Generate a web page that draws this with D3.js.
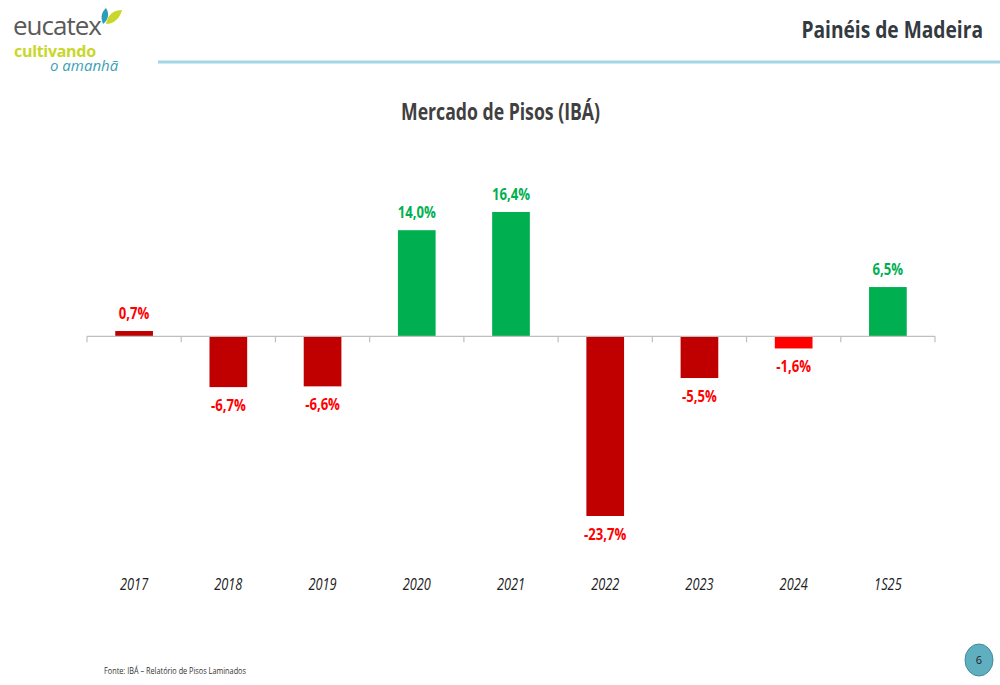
<!DOCTYPE html>
<html>
<head>
<meta charset="utf-8">
<script src="https://cdn.jsdelivr.net/npm/d3@7"></script>
<style>
  body { margin: 0; background: #fff; }
  svg { display: block; font-family: "Open Sans", "Noto Sans", sans-serif; }
</style>
</head>
<body>
<svg id="chart" width="1000" height="685"></svg>
<script>
const categories = ['2017', '2018', '2019', '2020', '2021', '2022', '2023', '2024', '1S25'];
const values = [0.7, -6.7, -6.6, 14.0, 16.4, -23.7, -5.5, -1.6, 6.5];
const barColors = ['#C00000', '#C00000', '#C00000', '#00B050', '#00B050', '#C00000', '#C00000', '#FF0000', '#00B050'];

const svg = d3.select('#chart');
const fmt = v => v.toFixed(1).replace('.', ',') + '%';

// squeeze text horizontally, the source font is narrower than Open Sans
function narrow(sel, px, py, sx) {
  sel.attr('x', 0).attr('y', 0)
    .attr('transform', (d, i) => `translate(${px(d, i)},${py(d, i)}) scale(${sx},1)`);
}

// header
const logo = svg.append('g');
logo.append('text').attr('x', 13).attr('y', 35)
  .attr('font-size', 26).attr('fill', '#5a5a5a').attr('letter-spacing', -1)
  .text('eucatex');
logo.append('text').attr('x', 14).attr('y', 57)
  .attr('font-size', 16).attr('font-weight', 'bold').attr('fill', '#C9D62B')
  .attr('letter-spacing', -0.3).text('cultivando');
logo.append('text').attr('x', 50).attr('y', 71)
  .attr('font-size', 15).attr('font-style', 'italic').attr('fill', '#3B9FB5')
  .text('o amanhã');
logo.append('path').attr('d', 'M103,24 C100,16 102,12 106,8 C110,14 108,20 103,24 Z').attr('fill', '#2E9DB8');
logo.append('path').attr('d', 'M106,24 C108,14 114,10 122,10 C120,18 114,24 106,24 Z').attr('fill', '#C9D62B');

svg.append('line').attr('x1', 158).attr('x2', 1000).attr('y1', 62).attr('y2', 62)
  .attr('stroke', '#A3D6E6').attr('stroke-width', 3);

svg.append('text')
  .attr('text-anchor', 'end')
  .attr('font-size', 24).attr('font-weight', 'bold').attr('fill', '#333a40')
  .text('Painéis de Madeira')
  .call(narrow, () => 983, () => 38, 0.8);

svg.append('text').attr('x', 401).attr('y', 120)
  .attr('font-size', 23).attr('font-weight', 'bold').attr('fill', '#404040')
  .attr('textLength', 199).attr('lengthAdjust', 'spacingAndGlyphs')
  .text('Mercado de Pisos (IBÁ)');

// chart
const x = d3.scaleBand().domain(categories).range([87, 935]).paddingInner(0.6).paddingOuter(0.3);
const y = d3.scaleLinear().domain([-23.7, 16.4]).range([516, 212]);
const y0 = y(0);
const cx = (d, i) => x(categories[i]) + x.bandwidth() / 2;

svg.selectAll('rect.bar').data(values).join('rect')
  .attr('class', 'bar')
  .attr('x', (d, i) => x(categories[i]))
  .attr('width', x.bandwidth())
  .attr('y', d => Math.min(y(d), y0))
  .attr('height', d => Math.abs(y(d) - y0))
  .attr('fill', (d, i) => barColors[i]);

// axis line with ticks between categories
const step = (935 - 87) / categories.length;
const axis = svg.append('g');
axis.append('line').attr('x1', 87).attr('x2', 935).attr('y1', y0).attr('y2', y0)
  .attr('stroke', '#BFBFBF').attr('stroke-width', 1.2);
axis.selectAll('line.tick').data(d3.range(categories.length + 1)).join('line')
  .attr('class', 'tick')
  .attr('x1', i => 87 + i * step).attr('x2', i => 87 + i * step)
  .attr('y1', y0).attr('y2', y0 + 6)
  .attr('stroke', '#BFBFBF').attr('stroke-width', 1.2);

svg.selectAll('text.val').data(values).join('text')
  .attr('class', 'val')
  .attr('text-anchor', 'middle')
  .attr('font-size', 16).attr('font-weight', 'bold')
  .attr('fill', d => d >= 1 ? '#00B050' : '#FF0000')
  .text(fmt)
  .call(narrow, cx, d => d >= 0 ? y(d) - 12 : y(d) + 24, 0.82);

svg.selectAll('text.cat').data(categories).join('text')
  .attr('class', 'cat')
  .attr('text-anchor', 'middle')
  .attr('font-size', 16).attr('font-style', 'italic').attr('fill', '#222')
  .text(d => d)
  .call(narrow, (d, i) => cx(d, i), () => 590, 0.8);

// footer
svg.append('text').attr('x', 104).attr('y', 674)
  .attr('font-size', 9).attr('fill', '#333')
  .attr('textLength', 142).attr('lengthAdjust', 'spacingAndGlyphs')
  .text('Fonte: IBÁ – Relatório de Pisos Laminados');

svg.append('ellipse').attr('cx', 979).attr('cy', 660).attr('rx', 14).attr('ry', 16)
  .attr('fill', '#5FAFC1').attr('stroke', '#3E8C9C').attr('stroke-width', 1);
svg.append('text').attr('x', 979).attr('y', 664).attr('text-anchor', 'middle')
  .attr('font-size', 11).attr('fill', '#222').text('6');
</script>
</body>
</html>
